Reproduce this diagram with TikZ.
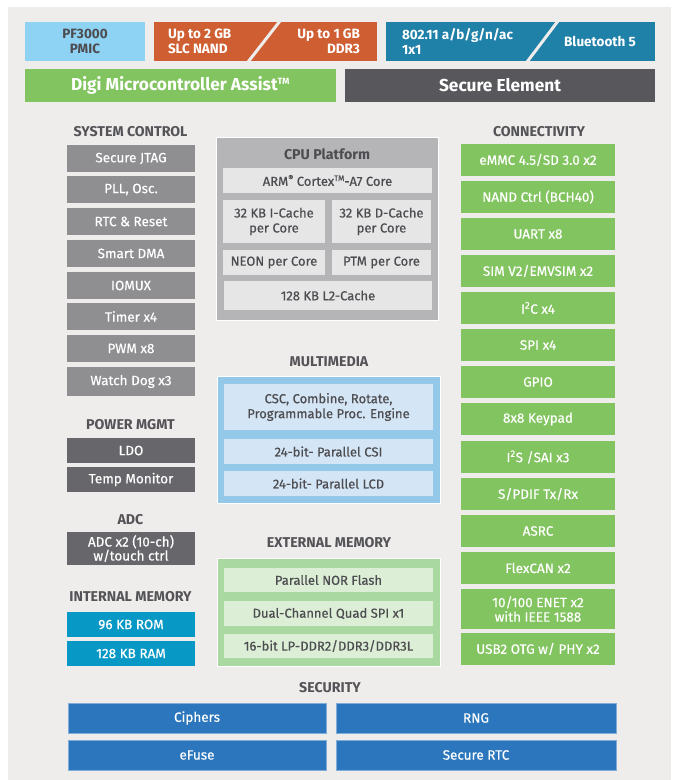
\documentclass[tikz,border=0pt]{standalone}
\usepackage{fontspec}
\setmainfont{Fira Sans}
\newfontfamily\medfont{Fira Sans}[FakeBold=0.45]
\definecolor{panelbg}{HTML}{EFEDEB}
\definecolor{titlec}{HTML}{545357}
\definecolor{sysgray}{HTML}{8F8E91}
\definecolor{pwrgray}{HTML}{67666A}
\definecolor{memblue}{HTML}{0898C6}
\definecolor{congreen}{HTML}{82C45F}
\definecolor{pmicblue}{HTML}{8ED2F4}
\definecolor{orangec}{HTML}{CF5F32}
\definecolor{tealc}{HTML}{1F80A8}
\definecolor{segray}{HTML}{58575B}
\definecolor{cpuout}{HTML}{B5B4B6}
\definecolor{cpuin}{HTML}{E7E6E7}
\definecolor{mmout}{HTML}{93C8E8}
\definecolor{mmin}{HTML}{D4E6F5}
\definecolor{emout}{HTML}{A9D8A0}
\definecolor{emin}{HTML}{DCEFD6}
\definecolor{secblue}{HTML}{2B76BC}
\definecolor{darktext}{HTML}{4D4C50}
\newcommand\blk[7]{\node[#1, minimum width={(#5-#3)*1pt}, minimum height={(#6-#4)*1pt}] (#2) at ({(#3+#5)/2},{(#4+#6)/2}) {#7};}
\begin{document}
\begin{tikzpicture}[x=1pt,y=-1pt,
  every node/.style={inner sep=0pt, outer sep=0pt, align=center},
  base/.style={rectangle, text=white, font=\medfont\fontsize{13.5}{15}\selectfont},
  sysbox/.style={base, fill=sysgray},
  pwrbox/.style={base, fill=pwrgray},
  membox/.style={base, fill=memblue},
  conbox/.style={base, fill=congreen},
  secbox/.style={base, fill=secblue, draw=secblue!60!white, line width=0.8pt},
  inbox/.style={rectangle, text=darktext, font=\medfont\fontsize{13}{15}\selectfont},
  cpubox/.style={inbox, fill=cpuin},
  mmbox/.style={inbox, fill=mmin},
  embox/.style={inbox, fill=emin},
  title/.style={text=titlec, font=\bfseries\fontsize{14.2}{16}\selectfont},
  topbox/.style={rectangle, text=white, font=\bfseries\fontsize{13.5}{15}\selectfont},
  bigbox/.style={rectangle, text=white, font=\bfseries\fontsize{17.3}{19}\selectfont},
  slash/.style={draw=panelbg, line width=3pt}
]
\useasboundingbox (0,0) rectangle (675,780);
\fill[white] (0,0) rectangle (675,780);
\fill[panelbg] (8,7) rectangle (671,780);

% top row
\blk{topbox, fill=pmicblue, text=darktext}{pmic}{25}{22}{145}{61}{PF3000\\PMIC}
\blk{topbox, fill=orangec}{mem}{154}{22}{377}{61}{}
\coordinate (s1a) at (248,62);
\coordinate (s1b) at (280,21);
\draw[slash] (s1a) -- (s1b);
\node[topbox, anchor=west, align=left] (nand) at (168,41.5) {Up to 2 GB\\SLC NAND};
\node[topbox, anchor=east, align=right] (ddr) at (360,41.5) {Up to 1 GB\\DDR3};
\blk{topbox, fill=tealc}{wifi}{386}{22}{655}{61}{}
\coordinate (s2a) at (527,62);
\coordinate (s2b) at (558,21);
\draw[slash] (s2a) -- (s2b);
\node[topbox, anchor=west, align=left] (wl) at (402,41.5) {802.11 a/b/g/n/ac\\1x1};
\node[topbox] (bt) at (600,41.5) {Bluetooth 5};
\blk{bigbox, fill=congreen}{digi}{25}{69}{336}{102}{Digi Microcontroller Assist\textsuperscript{\fontsize{9}{9}\selectfont TM}}
\blk{bigbox, fill=segray}{se}{345}{69}{655}{102}{Secure Element}

% system control
\node[title] (tsys) at (130.5,132) {SYSTEM CONTROL};
\blk{sysbox}{jtag}{67}{145}{195}{172}{Secure JTAG}
\blk{sysbox}{pll}{67}{176}{195}{203}{PLL, Osc.}
\blk{sysbox}{rtc}{67}{208}{195}{235}{RTC \& Reset}
\blk{sysbox}{dma}{67}{240}{195}{267}{Smart DMA}
\blk{sysbox}{iomux}{67}{272}{195}{299}{IOMUX}
\blk{sysbox}{timer}{67}{303}{195}{330}{Timer x4}
\blk{sysbox}{pwm}{67}{335}{195}{362}{PWM x8}
\blk{sysbox}{wdog}{67}{367}{195}{396}{Watch Dog x3}

\node[title] (tpwr) at (130.5,425) {POWER MGMT};
\blk{pwrbox}{ldo}{67}{438}{195}{463}{LDO}
\blk{pwrbox}{temp}{67}{467}{195}{492}{Temp Monitor}

\node[title] (tadc) at (130.5,520) {ADC};
\blk{pwrbox, font=\medfont\fontsize{13.5}{14}\selectfont}{adc}{67}{532}{195}{565}{ADC x2 (10-ch)\\w/touch ctrl}

\node[title] (tim) at (130.5,597) {INTERNAL MEMORY};
\blk{membox}{rom}{67}{612}{195}{637}{96 KB ROM}
\blk{membox}{ram}{67}{641}{195}{666}{128 KB RAM}

% CPU platform
\blk{rectangle, fill=cpuout, draw=white, line width=1pt}{cpu}{216}{137}{438}{320}{}
\node[title, text=darktext] (tcpu) at (327,154) {CPU Platform};
\blk{cpubox}{arm}{223}{168}{432}{193}{ARM\raisebox{0.7ex}{\fontsize{8}{8}\selectfont\textregistered} Cortex\raisebox{0.7ex}{\fontsize{8}{8}\selectfont TM}-A7 Core}
\blk{cpubox}{icache}{223}{200}{325}{243}{32 KB I-Cache\\per Core}
\blk{cpubox}{dcache}{332}{200}{431}{243}{32 KB D-Cache\\per Core}
\blk{cpubox}{neon}{223}{250}{325}{275}{NEON per Core}
\blk{cpubox}{ptm}{332}{250}{431}{275}{PTM per Core}
\blk{cpubox}{ltwo}{224}{281}{432}{310}{128 KB L2-Cache}

% multimedia
\node[title] (tmm) at (329,362) {MULTIMEDIA};
\blk{rectangle, fill=mmout, draw=white, line width=1pt}{mm}{217}{376}{440}{503}{}
\blk{mmbox}{csc}{224}{384}{433}{430}{CSC, Combine, Rotate,\\Programmable Proc. Engine}
\blk{mmbox}{csi}{224}{439}{433}{464}{24-bit- Parallel CSI}
\blk{mmbox}{lcd}{224}{471}{433}{496}{24-bit- Parallel LCD}

% external memory
\node[title] (tem) at (329,543) {EXTERNAL MEMORY};
\blk{rectangle, fill=emout, draw=white, line width=1pt}{em}{217}{558}{440}{666}{}
\blk{embox}{nor}{224}{568}{433}{592}{Parallel NOR Flash}
\blk{embox}{qspi}{224}{601}{433}{626}{Dual-Channel Quad SPI x1}
\blk{embox}{lpddr}{224}{634}{433}{658}{16-bit LP-DDR2/DDR3/DDR3L}

% connectivity
\node[title] (tcon) at (539,132) {CONNECTIVITY};
\blk{conbox}{emmc}{461}{144}{615}{176}{eMMC 4.5/SD 3.0 x2}
\blk{conbox}{nandc}{461}{181}{615}{213}{NAND Ctrl (BCH40)}
\blk{conbox}{uart}{461}{218}{615}{250}{UART x8}
\blk{conbox}{sim}{461}{255}{615}{287}{SIM V2/EMVSIM x2}
\blk{conbox}{itc}{461}{292}{615}{324}{I\textsuperscript{2}C x4}
\blk{conbox}{spi}{461}{329}{615}{361}{SPI x4}
\blk{conbox}{gpio}{461}{366}{615}{398}{GPIO}
\blk{conbox}{keypad}{461}{403}{615}{435}{8x8 Keypad}
\blk{conbox}{its}{461}{441}{615}{473}{I\textsuperscript{2}S /SAI x3}
\blk{conbox}{spdif}{461}{478}{615}{510}{S/PDIF Tx/Rx}
\blk{conbox}{asrc}{461}{515}{615}{547}{ASRC}
\blk{conbox}{can}{461}{552}{615}{584}{FlexCAN x2}
\blk{conbox, font=\medfont\fontsize{13.5}{14.5}\selectfont}{enet}{461}{589}{615}{629}{10/100 ENET x2\\with IEEE 1588}
\blk{conbox}{usb}{461}{633}{615}{665}{USB2 OTG w/ PHY x2}

% security
\node[title] (tsec) at (330,688) {SECURITY};
\blk{secbox}{ciph}{68}{703}{326}{733}{Ciphers}
\blk{secbox}{rng}{336}{703}{616}{733}{RNG}
\blk{secbox}{efuse}{68}{740}{326}{770}{eFuse}
\blk{secbox}{srtc}{336}{740}{616}{770}{Secure RTC}
\end{tikzpicture}
\end{document}
